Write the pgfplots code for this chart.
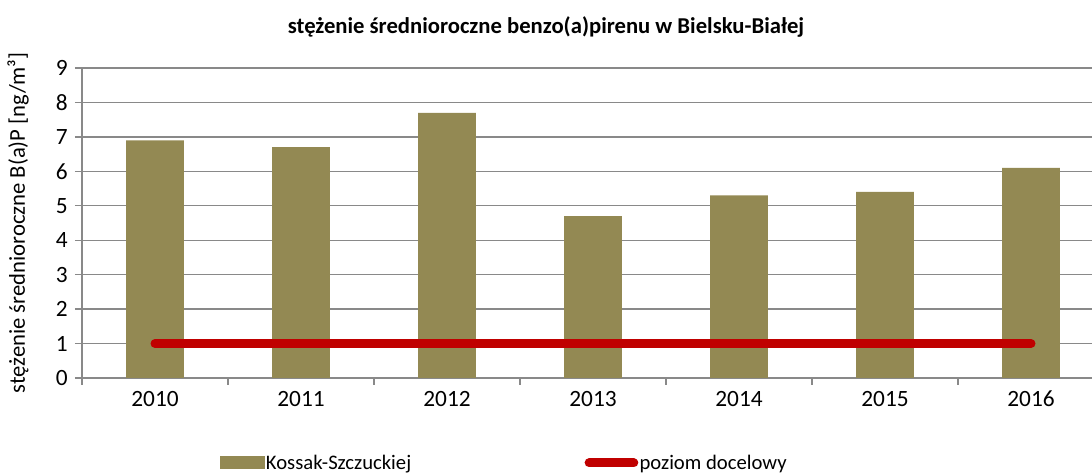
\documentclass[border=0pt]{standalone}
\usepackage{pgfplots}
\pgfplotsset{compat=1.18}
\usepackage{fontspec}
\setmainfont{Carlito}
\definecolor{barc}{HTML}{938953}
\definecolor{redl}{HTML}{C00000}
\definecolor{gridc}{HTML}{898989}
\begin{document}
\begin{tikzpicture}
\useasboundingbox (0,0) rectangle (819pt,355.5pt);
\clip (0,0) rectangle (819pt,355.5pt);
\begin{axis}[
  at={(61.5pt,72pt)}, anchor=south west,
  scale only axis, width=766.5pt, height=232.5pt,
  xmin=-0.5, xmax=6.5, ymin=0, ymax=9,
  axis x line*=bottom, axis y line*=left,
  axis line style={gridc, line width=1pt},
  xtick={0,...,6},
  xticklabels={2010,2011,2012,2013,2014,2015,2016},
  minor xtick={-0.5,0.5,...,6.5},
  major x tick style={draw=none},
  minor x tick style={gridc, line width=1pt},
  minor tick length=5.25pt,
  ytick={0,...,9},
  ytick style={gridc, line width=1pt},
  major tick length=5.25pt,
  tick align=outside,
  ymajorgrids, major grid style={gridc, line width=1pt},
  /pgf/number format/assume math mode=true,
  tick label style={font=\fontsize{17.5}{20}\selectfont},
  xticklabel style={yshift=-1pt},
  yticklabel style={xshift=-2pt},
  legend columns=2,
  legend style={at={(0.1305,-0.274)}, anchor=west, draw=none, fill=none,
    font=\fontsize{15.5}{18}\selectfont, column sep=0pt,
    nodes={inner sep=1pt}},
  legend cell align=left,
]
\addplot[ybar, bar width=0.397, fill=barc, draw=none,
  legend image code/.code={\fill[barc] (0pt,-4.9pt) rectangle (33.75pt,4.9pt);}]
  coordinates {(0,6.9) (1,6.7) (2,7.7) (3,4.7) (4,5.3) (5,5.4) (6,6.1)};
\addlegendentry{\makebox[238pt][l]{Kossak-Szczuckiej}}
\addplot[redl, line width=6.75pt, line cap=round, mark=none,
  legend image code/.code={\draw[redl, line width=6.75pt, line cap=round] (2.5pt,0) -- (36pt,0);}]
  coordinates {(0,1) (1,1) (2,1) (3,1) (4,1) (5,1) (6,1)};
\addlegendentry{poziom docelowy}
\end{axis}
\node[font=\bfseries\fontsize{17}{20}\selectfont] at (409.5pt,335.25pt) {stężenie średnioroczne benzo(a)pirenu w Bielsku-Białej};
\node[rotate=90, font=\fontsize{17}{20}\selectfont] at (13.5pt,188.25pt) {stężenie średnioroczne B(a)P [ng/m³]};
\end{tikzpicture}
\end{document}
